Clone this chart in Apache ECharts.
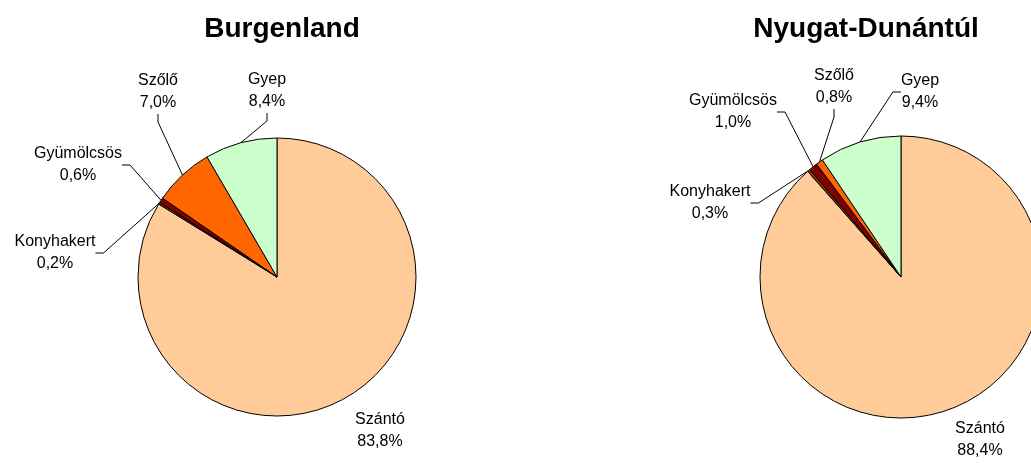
<!DOCTYPE html>
<html>
<head>
<meta charset="utf-8">
<script src="https://cdn.jsdelivr.net/npm/echarts@6/dist/echarts.min.js"></script>
<style>
  html, body { margin: 0; padding: 0; background: #fff; }
  #chart { width: 1031px; height: 463px; }
</style>
</head>
<body>
<div id="chart"></div>
<script>
// kategóriák (óramutató járásával, 12 órától)
var categories = ["Szántó", "Konyhakert", "Gyümölcsös", "Szőlő", "Gyep"];
var burgenland = [83.8, 0.2, 0.6, 7.0, 8.4];
var nyugatDunantul = [88.4, 0.3, 1.0, 0.8, 9.4];
var titles = ["Burgenland", "Nyugat-Dunántúl"];

var colors = ["#FFCC99", "#993300", "#800000", "#FF6600", "#CCFFCC"];

// címkék helye (középpont)
var labelPosLeft = [[380, 431], [55, 253], [78, 165], [158, 92], [267, 91]];
var labelPosRight = [[980, 440], [710, 203], [733, 112], [834, 87], [920, 92]];

var myChart = echarts.init(document.getElementById("chart"));

function makeData(values) {
	return categories.map(function (name, i) {
		return {
			name: name,
			value: values[i],
			itemStyle: { color: colors[i] },
			labelLine: { show: i !== 0 }
		};
	});
}

function makeSeries(values, center, radius, pos) {
	return {
		type: "pie",
		center: center,
		radius: radius,
		startAngle: 90,
		clockwise: true,
		animation: false,
		silent: true,
		data: makeData(values),
		itemStyle: {
			borderColor: "#000",
			borderWidth: 1
		},
		label: {
			show: true,
			position: "outside",
			color: "#000",
			fontFamily: "Liberation Sans, Arial, sans-serif",
			fontSize: 16,
			lineHeight: 22,
			align: "center",
			formatter: function (p) {
				return p.name + "\n" + p.value.toFixed(1).replace(".", ",") + "%";
			}
		},
		labelLine: {
			show: true,
			length: 10,
			length2: 8,
			lineStyle: { color: "#000", width: 1 }
		},
		labelLayout: function (p) {
			var xy = pos[p.dataIndex];
			return {
				x: xy[0],
				y: xy[1],
				align: "center",
				verticalAlign: "middle"
			};
		}
	};
}

var option = {
	backgroundColor: "#fff",
	title: [
		{
			text: titles[0],
			left: 277,
			top: 10,
			textAlign: "center",
			textStyle: { fontFamily: "Liberation Sans, Arial, sans-serif", fontSize: 28, fontWeight: "bold", color: "#000" }
		},
		{
			text: titles[1],
			left: 861,
			top: 10,
			textAlign: "center",
			textStyle: { fontFamily: "Liberation Sans, Arial, sans-serif", fontSize: 28, fontWeight: "bold", color: "#000" }
		}
	],
	series: [
		makeSeries(burgenland, [277, 277], 139, labelPosLeft),
		makeSeries(nyugatDunantul, [901, 277], 141, labelPosRight)
	]
};

myChart.setOption(option, true);
window.addEventListener("resize", function () {
	myChart.resize();
});
</script>
</body>
</html>
